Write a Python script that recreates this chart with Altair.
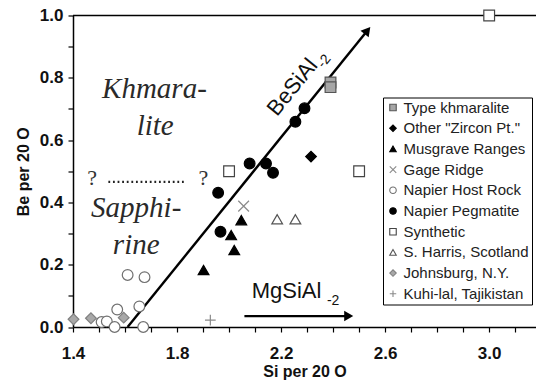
import altair as alt
import pandas as pd

# ---- data: Si and Be per 20 O for each locality / series ----
series_names = [
    "Type khmaralite",
    'Other "Zircon Pt."',
    "Musgrave Ranges",
    "Gage Ridge",
    "Napier Host Rock",
    "Napier Pegmatite",
    "Synthetic",
    "S. Harris, Scotland",
    "Johnsburg, N.Y.",
    "Kuhi-lal, Tajikistan",
]

type_khm_si = [2.39, 2.39]
type_khm_be = [0.785, 0.77]
zircon_si = [2.315]
zircon_be = [0.547]
musgrave_si = [2.047, 2.008, 2.02, 1.902]
musgrave_be = [0.343, 0.295, 0.247, 0.183]
gage_si = [2.056]
gage_be = [0.388]
host_si = [1.61, 1.675, 1.57, 1.655, 1.51, 1.53, 1.56, 1.67]
host_be = [0.167, 0.16, 0.056, 0.066, 0.016, 0.018, 0.0, 0.0]
peg_si = [2.29, 2.255, 2.079, 2.142, 2.169, 1.958, 1.967]
peg_be = [0.702, 0.659, 0.525, 0.525, 0.495, 0.431, 0.306]
synth_si = [2.0, 2.5, 3.0]
synth_be = [0.5, 0.5, 1.0]
harris_si = [2.185, 2.255]
harris_be = [0.346, 0.346]
johns_si = [1.402, 1.469, 1.595]
johns_be = [0.025, 0.028, 0.030]
kuhi_si = [1.928]
kuhi_be = [0.022]

series_si = [type_khm_si, zircon_si, musgrave_si, gage_si, host_si,
             peg_si, synth_si, harris_si, johns_si, kuhi_si]
series_be = [type_khm_be, zircon_be, musgrave_be, gage_be, host_be,
             peg_be, synth_be, harris_be, johns_be, kuhi_be]

# marker styling per series
shapes = ["square", "diamond", "triangle-up", "M-1,-1L1,1M1,-1L-1,1", "circle",
          "circle", "square", "triangle-up", "diamond", "M-1,0L1,0M0,-1L0,1"]
fills = ["#a6a6a6", "#000000", "#000000", "#ffffff", "#ffffff",
         "#000000", "#ffffff", "#ffffff", "#a8a8a8", "#ffffff"]
strokes = ["#555555", "#000000", "#000000", "#8a8a8a", "#707070",
           "#000000", "#444444", "#555555", "#808080", "#8a8a8a"]

# exchange vectors (start, arrow end) and arrowheads
besial_si = [1.61, 2.532]
besial_be = [0.0, 0.952]
mgsial_si = [2.059, 2.46]
mgsial_be = [0.035, 0.035]

# field-name annotations
field_labels = ["Khmara-", "lite", "Sapphi-", "rine"]
field_si = [1.713, 1.716, 1.643, 1.643]
field_be = [0.735, 0.616, 0.353, 0.234]
boundary_q_si = [1.474, 1.901]
boundary_q_be = [0.478, 0.478]
boundary_si = [1.536, 1.832]
boundary_be = [0.466, 0.466]

rows = []
for name, sis, bes in zip(series_names, series_si, series_be):
    for s, b in zip(sis, bes):
        rows.append({"series": name, "si": s, "be": b})
points = pd.DataFrame(rows)

x_scale = alt.Scale(domain=[1.4, 3.18], nice=False, zero=False)
y_scale = alt.Scale(domain=[0, 1], nice=False, zero=False)

x_axis = alt.Axis(
    title="Si per 20 O",
    values=[round(1.4 + 0.1 * i, 1) for i in range(18)],
    labelExpr="round(datum.value*10) % 4 == 2 ? format(datum.value, '.1f') : ''",
    tickSize=5, labelPadding=13, titlePadding=2, grid=False,
    labelFlush=False, labelOverlap=False,
)
y_axis = alt.Axis(
    title="Be per 20 O",
    values=[round(0.1 * i, 1) for i in range(11)],
    labelExpr="round(datum.value*10) % 2 == 0 ? format(datum.value, '.1f') : ''",
    tickSize=5, labelPadding=5, titlePadding=8, grid=False,
    labelFlush=False, labelOverlap=False,
)


def X(field="si"):
    return alt.X(f"{field}:Q", scale=x_scale, axis=x_axis)


def Y(field="be"):
    return alt.Y(f"{field}:Q", scale=y_scale, axis=y_axis)


# top frame line at Be = 1.0
frame = alt.Chart(pd.DataFrame({"si": [1.4], "si2": [3.18], "be": [1.0]})).mark_rule(
    color="black", strokeWidth=1.5
).encode(x=X(), x2="si2:Q", y=Y())

# BeSiAl-2 arrow
be_df = pd.DataFrame({"si": besial_si, "be": besial_be})
be_line = alt.Chart(be_df).mark_line(color="black", strokeWidth=2.4).encode(x=X(), y=Y())
be_head = alt.Chart(be_df.tail(1)).mark_point(
    shape="triangle-up", angle=39, size=110, filled=True, color="black", opacity=1
).encode(x=X(), y=Y())

# MgSiAl-2 arrow
mg_df = pd.DataFrame({"si": mgsial_si, "be": mgsial_be})
mg_line = alt.Chart(mg_df).mark_line(color="black", strokeWidth=2.4).encode(x=X(), y=Y())
mg_head = alt.Chart(mg_df.tail(1)).mark_point(
    shape="triangle-right", size=110, filled=True, color="black", opacity=1
).encode(x=X(), y=Y())

# dotted boundary between the two fields
boundary = alt.Chart(pd.DataFrame({"si": boundary_si, "be": boundary_be})).mark_line(
    color="#222222", strokeWidth=2.4, strokeDash=[1.8, 2.8]
).encode(x=X(), y=Y())
qmarks = alt.Chart(pd.DataFrame({"si": boundary_q_si, "be": boundary_q_be, "t": ["?", "?"]})).mark_text(
    font="Liberation Serif", fontSize=22, color="#333333", baseline="middle"
).encode(x=X(), y=Y(), text="t:N")

fields = alt.Chart(pd.DataFrame({"si": field_si, "be": field_be, "t": field_labels})).mark_text(
    font="Liberation Serif", fontStyle="italic", fontSize=29, color="#2a2a2a",
    baseline="alphabetic", align="center"
).encode(x=X(), y=Y(), text="t:N")

# vector labels
be_lab = alt.Chart(pd.DataFrame({"si": [2.243], "be": [0.77], "t": ["BeSiAl"]})).mark_text(
    font="Liberation Sans", fontSize=22, angle=309, color="#111111",
    align="center", baseline="middle"
).encode(x=X(), y=Y(), text="t:N")
be_sub = alt.Chart(pd.DataFrame({"si": [2.366], "be": [0.853], "t": ["-2"]})).mark_text(
    font="Liberation Sans", fontSize=14, angle=309, color="#111111",
    align="center", baseline="middle"
).encode(x=X(), y=Y(), text="t:N")
mg_lab = alt.Chart(pd.DataFrame({"si": [2.221], "be": [0.093], "t": ["MgSiAl"]})).mark_text(
    font="Liberation Sans", fontSize=22, color="#111111",
    align="center", baseline="alphabetic"
).encode(x=X(), y=Y(), text="t:N")
mg_sub = alt.Chart(pd.DataFrame({"si": [2.4], "be": [0.084], "t": ["-2"]})).mark_text(
    font="Liberation Sans", fontSize=14, color="#111111",
    align="center", baseline="middle"
).encode(x=X(), y=Y(), text="t:N")

# data points with merged shape / fill / stroke legend
pts = alt.Chart(points).mark_point(size=115, strokeWidth=1.2, opacity=1, fillOpacity=1).encode(
    x=X(),
    y=Y(),
    shape=alt.Shape("series:N", scale=alt.Scale(domain=series_names, range=shapes), title=None),
    fill=alt.Fill("series:N", scale=alt.Scale(domain=series_names, range=fills), title=None),
    stroke=alt.Stroke("series:N", scale=alt.Scale(domain=series_names, range=strokes), title=None),
)

chart = alt.layer(
    frame, boundary, be_line, be_head, mg_line, mg_head, pts,
    qmarks, fields, be_lab, be_sub, mg_lab, mg_sub,
).properties(
    width=463,
    height=311.5,
    autosize=alt.AutoSizeParams(type="none"),
    padding={"left": 73, "top": 15.5, "right": 0, "bottom": 57},
    background="white",
).configure_view(
    stroke=None
).configure_axis(
    labelFont="Liberation Sans", labelFontSize=17, labelFontWeight="bold", labelColor="#111111",
    titleFont="Liberation Sans", titleFontSize=16, titleFontWeight="bold", titleColor="#111111",
    domainColor="black", domainWidth=1.5, tickColor="black", tickWidth=1.2,
).configure_legend(
    orient="none", legendX=310, legendY=82,
    strokeColor="black", fillColor="white", padding=2.5,
    labelFont="Liberation Sans", labelFontSize=15, labelColor="#222222",
    symbolSize=42, symbolStrokeWidth=1.1, rowPadding=4.7, labelOffset=3,
    symbolOffset=0,
)

chart.save("out.html", embed_options={"renderer": "svg", "actions": False})
